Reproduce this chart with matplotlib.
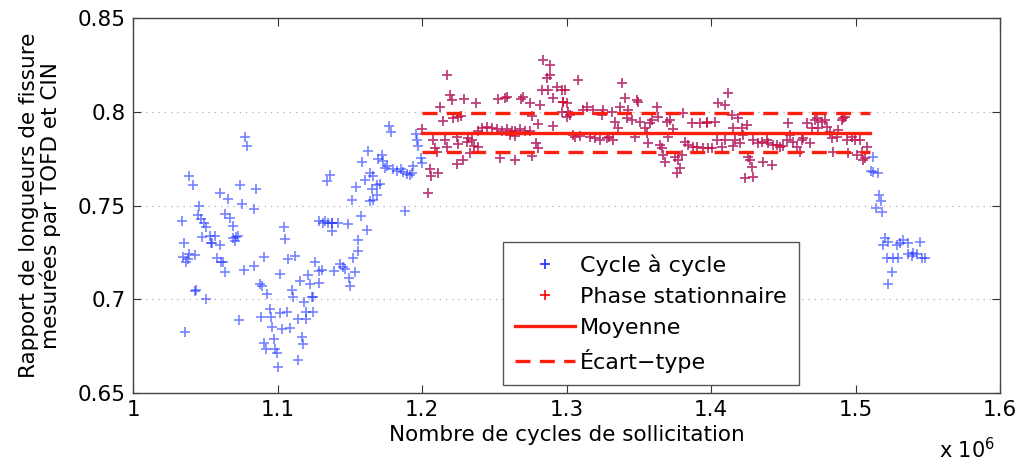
import numpy as np
import matplotlib
matplotlib.use('Agg')
import matplotlib.pyplot as plt
from matplotlib.ticker import FormatStrFormatter

plt.rcParams['font.family'] = ['DejaVu Sans']

# cycles (x 10^6) and ratio TOFD / CIN
# phase before the stationary regime
cyc_start = [1.0775, 1.079, 1.039, 1.0415, 1.074, 1.085, 1.060, 1.066, 1.046, 1.0755,
             1.084, 1.034, 1.045, 1.047, 1.049, 1.0505, 1.064, 1.067, 1.069, 1.048,
             1.053, 1.057, 1.055, 1.060, 1.054, 1.069, 1.071, 1.0705, 1.0725, 1.035,
             1.039, 1.0345, 1.038, 1.043, 1.0365, 1.058, 1.061, 1.062, 1.0637, 1.077,
             1.084, 1.0907, 1.102, 1.088, 1.089, 1.093, 1.0436, 1.043, 1.0505, 1.095,
             1.102, 1.0886, 1.0955, 1.0734, 1.036, 1.096, 1.0976, 1.0907, 1.092, 1.098,
             1.0997, 1.1003,
             1.177, 1.1785, 1.196, 1.1965, 1.197, 1.1626, 1.1585, 1.172, 1.1696, 1.173,
             1.1758, 1.1744, 1.18, 1.183, 1.1855, 1.187, 1.1896, 1.1917, 1.193, 1.1938,
             1.136, 1.134, 1.164, 1.166, 1.1605, 1.171, 1.169, 1.1654, 1.154, 1.169,
             1.164, 1.166, 1.1516, 1.188, 1.158, 1.129, 1.133, 1.135, 1.138, 1.142,
             1.1315, 1.1377, 1.149, 1.138, 1.162, 1.1045, 1.105, 1.1557, 1.156, 1.112,
             1.107, 1.152, 1.126, 1.1433, 1.1453, 1.1467, 1.1287, 1.1308, 1.139, 1.1536,
             1.121, 1.1156, 1.1225, 1.1287, 1.1495, 1.150, 1.11, 1.1107, 1.124, 1.1245,
             1.118, 1.1066, 1.1197, 1.1245, 1.114, 1.120, 1.103, 1.1087, 1.117, 1.1176,
             1.114, 1.199, 1.1998]
ratio_start = [0.7867, 0.782, 0.766, 0.761, 0.761, 0.759, 0.757, 0.7535, 0.750, 0.751,
               0.748, 0.7417, 0.745, 0.743, 0.741, 0.7385, 0.7455, 0.7433, 0.739, 0.733,
               0.7337, 0.7337, 0.730, 0.7288, 0.730, 0.7326, 0.733, 0.731, 0.7337, 0.730,
               0.724, 0.7225, 0.7214, 0.7235, 0.720, 0.722, 0.720, 0.7197, 0.7144, 0.7155,
               0.7176, 0.7224, 0.7133, 0.7084, 0.7073, 0.703, 0.7052, 0.7047, 0.700, 0.695,
               0.6929, 0.6908, 0.6908, 0.689, 0.6827, 0.6854, 0.679, 0.6768, 0.6736, 0.6736,
               0.6715, 0.664,
               0.7926, 0.7894, 0.7883, 0.785, 0.782, 0.7792, 0.7733, 0.777, 0.775, 0.7738,
               0.771, 0.770, 0.7696, 0.7685, 0.7696, 0.768, 0.767, 0.7664, 0.7674, 0.771,
               0.7664, 0.763, 0.7674, 0.7658, 0.7637, 0.7616, 0.761, 0.759, 0.760, 0.7557,
               0.7525, 0.753, 0.753, 0.747, 0.7444, 0.742, 0.7417, 0.741, 0.741, 0.741,
               0.741, 0.7406, 0.740, 0.7363, 0.737, 0.7385, 0.732, 0.7315, 0.7256, 0.723,
               0.7213, 0.7219, 0.7197, 0.7187, 0.717, 0.716, 0.7149, 0.7155, 0.7149, 0.7144,
               0.7128, 0.710, 0.708, 0.7085, 0.7112, 0.7069, 0.7052, 0.7015, 0.7015, 0.701,
               0.6983, 0.6934, 0.6934, 0.6934, 0.6897, 0.6897, 0.6843, 0.6849, 0.680, 0.6763,
               0.6677, 0.7753, 0.7729]

# stationary phase
cyc_stat = [1.2002, 1.2044, 1.2055, 1.206, 1.2113, 1.2078, 1.209, 1.2102, 1.216, 1.2171,
            1.2125, 1.2148, 1.2171, 1.2194, 1.2205, 1.2217, 1.2251, 1.227, 1.2293, 1.2372,
            1.224, 1.2251, 1.2309, 1.232, 1.2344, 1.2362, 1.239, 1.224, 1.2286, 1.2332,
            1.239, 1.2413, 1.2448, 1.2482, 1.2517, 1.2552, 1.2586, 1.2621, 1.2644, 1.2678,
            1.2713, 1.2747, 1.2609, 1.2644,
            1.2524, 1.2574, 1.2586, 1.2685, 1.2701, 1.2747, 1.2759,
            1.254, 1.2644, 1.2759, 1.2787, 1.2801,
            1.2805, 1.2817, 1.2828, 1.2840, 1.2863, 1.2874, 1.2886, 1.2886, 1.2909, 1.2909,
            1.2932, 1.2967, 1.2978, 1.2967,
            1.299, 1.2978, 1.3006, 1.3012, 1.3001, 1.3024, 1.3082,
            1.3047, 1.3059, 1.3093, 1.3116, 1.314, 1.3163, 1.3186, 1.3197, 1.3232, 1.3244,
            1.3255, 1.3278, 1.3296, 1.3313, 1.3324,
            1.3335, 1.3358, 1.337, 1.3382, 1.3405, 1.3416, 1.3428, 1.3451, 1.3474, 1.3486,
            1.3497, 1.3509, 1.3543, 1.3555, 1.3566, 1.3578,
            1.359, 1.3624, 1.3636, 1.3647, 1.3659, 1.367, 1.3682, 1.3693, 1.3705, 1.3716,
            1.3739, 1.3751, 1.3762, 1.3774, 1.3785, 1.3797, 1.3808,
            1.382, 1.3843, 1.3866, 1.3878, 1.3901, 1.3924, 1.3947, 1.3971, 1.3982,
            1.397, 1.4028,
            1.4005, 1.4039, 1.4051, 1.4074, 1.4097, 1.4097,
            1.412, 1.4143, 1.4155, 1.4166, 1.4155, 1.4189, 1.4201, 1.4213, 1.4224, 1.4235,
            1.4247, 1.4259, 1.427, 1.4282, 1.4289,
            1.4293, 1.4328, 1.4351, 1.4362, 1.4386, 1.4397, 1.442, 1.4432, 1.4455, 1.4478,
            1.4501, 1.4524, 1.4535, 1.4547, 1.457, 1.4593, 1.4616, 1.4628, 1.4639, 1.4662,
            1.4685,
            1.4697, 1.472, 1.4731, 1.4743, 1.4766, 1.4789, 1.48, 1.4823, 1.4835, 1.4846,
            1.4869, 1.4881, 1.4904, 1.4915, 1.4927, 1.4938, 1.495, 1.4973, 1.4996, 1.5008,
            1.5031, 1.5042, 1.5054, 1.5065, 1.5077]
ratio_stat = [0.7908, 0.757, 0.7694, 0.7658, 0.7673, 0.785, 0.7806, 0.7788, 0.785, 0.7812,
              0.8028, 0.7952, 0.8198, 0.8091, 0.8064, 0.7966, 0.7975, 0.7979, 0.8068, 0.8046,
              0.7865, 0.783, 0.7841, 0.786, 0.785, 0.7818, 0.7811, 0.7722, 0.7744, 0.7779,
              0.790, 0.7913, 0.7918, 0.7913, 0.7908, 0.790, 0.7908, 0.790, 0.790, 0.7908,
              0.790, 0.790, 0.7877, 0.7872,
              0.8068, 0.8073, 0.8082, 0.8068, 0.8078, 0.8046, 0.7979,
              0.7753, 0.7744, 0.7765, 0.7833, 0.7806,
              0.7936, 0.8037, 0.8117, 0.8277, 0.8179, 0.8117, 0.825, 0.8197, 0.8073, 0.7925,
              0.8135, 0.8117, 0.8055, 0.8002,
              0.8117, 0.8055, 0.8046, 0.8002, 0.7975, 0.7984, 0.8171,
              0.7877, 0.7865, 0.7872, 0.801, 0.8025, 0.7868, 0.801, 0.786, 0.785, 0.7984,
              0.801, 0.786, 0.7865, 0.8002, 0.785,
              0.7948, 0.7913, 0.8028, 0.8153, 0.8073, 0.7966, 0.801, 0.7957, 0.7868, 0.8064,
              0.8055, 0.7948, 0.7913, 0.7886, 0.7836, 0.794,
              0.7957, 0.8028, 0.7975, 0.7824, 0.7806, 0.7771, 0.7735, 0.7948, 0.7868, 0.7957,
              0.7908, 0.7761, 0.7673, 0.7744, 0.770, 0.7771, 0.7996,
              0.7841, 0.7824, 0.794, 0.7815, 0.7815, 0.794, 0.7806, 0.794, 0.7806,
              0.7948, 0.7948,
              0.7806, 0.785, 0.8046, 0.7815, 0.8037, 0.785,
              0.81, 0.7984, 0.7913, 0.785, 0.7818, 0.7966, 0.7833, 0.7913, 0.7877, 0.7646,
              0.793, 0.7761, 0.7744, 0.7708, 0.7655,
              0.785, 0.7833, 0.7841, 0.7735, 0.785, 0.7833, 0.7717, 0.7824, 0.7824, 0.7815,
              0.7818, 0.785, 0.794, 0.7877, 0.7841, 0.7815, 0.7788, 0.785, 0.7859, 0.794,
              0.7833,
              0.7913, 0.7957, 0.7966, 0.7913, 0.7948, 0.7957, 0.7922, 0.7895, 0.786, 0.7788,
              0.7868, 0.7904, 0.7957, 0.7966, 0.7972, 0.785, 0.7779, 0.7868, 0.785, 0.777,
              0.785, 0.7788, 0.7744, 0.7753, 0.7815]

# after the stationary phase
cyc_end = [1.5119, 1.5105, 1.5123, 1.5158, 1.5165, 1.5174, 1.5142, 1.5181,
           1.5204, 1.5192, 1.5227, 1.5285, 1.5308, 1.5331, 1.5365, 1.5446,
           1.5216, 1.5262, 1.5297, 1.5365, 1.5389, 1.5424, 1.5458, 1.54, 1.548,
           1.525, 1.5227]
ratio_end = [0.7761, 0.7686, 0.7681, 0.7675, 0.7557, 0.7525, 0.7486, 0.7468,
             0.7326, 0.729, 0.7308, 0.729, 0.7299, 0.7317, 0.7299, 0.7308,
             0.7219, 0.7219, 0.7223, 0.724, 0.7232, 0.724, 0.7223, 0.7249, 0.7223,
             0.7144, 0.7081]

stat_range = [1.2, 1.51]
moyenne = 0.789
ecart = 0.0105

cyc_all = np.array(cyc_start + cyc_stat + cyc_end)
ratio_all = np.array(ratio_start + ratio_stat + ratio_end)

fig = plt.figure(figsize=(10.2, 4.66), dpi=100)
ax = fig.add_axes([0.1304, 0.1567, 0.85, 0.804])

ax.plot(cyc_all, ratio_all, '+', color=(0.1, 0.2, 1.0), alpha=0.6, ms=7, mew=1.2,
        label=u'Cycle \u00e0 cycle')
ax.plot(cyc_stat, ratio_stat, '+', color='red', alpha=0.55, ms=7, mew=1.2,
        label='Phase stationnaire')
ax.plot(stat_range, [moyenne, moyenne], '-', color=(1, 0.12, 0.05), lw=2.4,
        label='Moyenne')
ax.plot(stat_range, [moyenne + ecart] * 2, '--', color=(1, 0.12, 0.05), lw=2.4,
        dashes=(4.5, 2.8), label=u'\u00c9cart\u2212type')
ax.plot(stat_range, [moyenne - ecart] * 2, '--', color=(1, 0.12, 0.05), lw=2.4,
        dashes=(4.5, 2.8))

ax.set_xlim(1.0, 1.6)
ax.set_ylim(0.65, 0.85)
ax.set_xticks([1.0, 1.1, 1.2, 1.3, 1.4, 1.5, 1.6])
ax.set_yticks([0.65, 0.7, 0.75, 0.8, 0.85])
ax.xaxis.set_major_formatter(FormatStrFormatter('%g'))
ax.yaxis.set_major_formatter(FormatStrFormatter('%g'))
ax.tick_params(direction='in', length=6, width=0.8, labelsize=15.5, top=True, right=True,
               color='#333333', pad=5)
ax.yaxis.grid(True, linestyle=(0, (1, 4)), color='#b0b0b0', lw=0.9)
for s in ax.spines.values():
    s.set_color('#444444')
    s.set_linewidth(1.0)

ax.set_xlabel('Nombre de cycles de sollicitation', fontsize=15.5, labelpad=4)
ax.set_ylabel('Rapport de longueurs de fissure\nmesur\u00e9es par TOFD et CIN',
              fontsize=15.5, labelpad=12, linespacing=1.05)
fig.text(0.921, 0.016, r'x 10$^6$', fontsize=15)

leg = ax.legend(loc='lower left', bbox_to_anchor=(0.427, 0.021), fontsize=16,
                fancybox=False, framealpha=1, edgecolor='#555555', handlelength=2.7,
                borderaxespad=0, labelspacing=0.5, handletextpad=0.2, borderpad=0.55)
leg.get_frame().set_linewidth(1.0)
for h in leg.legend_handles:
    h.set_alpha(1)

fig.savefig('out.png', dpi=100)
